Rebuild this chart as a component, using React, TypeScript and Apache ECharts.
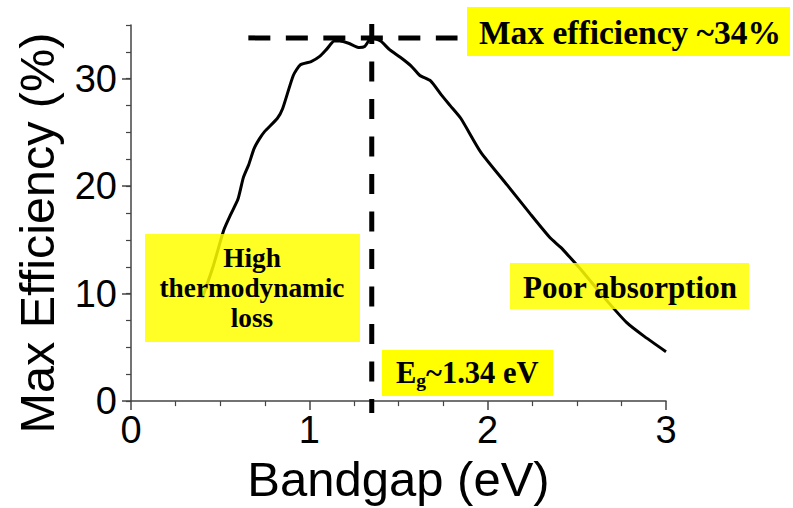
import React, { useEffect, useRef } from "react";
import * as echarts from "echarts";

// Shockley–Queisser style efficiency curve
const bandgap = [
  0.40, 0.46, 0.52, 0.56, 0.60, 0.63, 0.66, 0.69, 0.72, 0.75, 0.82, 0.85, 0.91, 0.95,
  1.01, 1.06, 1.10, 1.14, 1.17, 1.22, 1.28, 1.31, 1.34, 1.35, 1.40, 1.45, 1.51, 1.57,
  1.62, 1.68, 1.74, 1.79, 1.85, 1.96, 2.11, 2.24, 2.35, 2.41, 2.46, 2.54, 2.65, 2.78,
  2.88, 3.00,
];
const efficiency = [
  9.6, 12.5, 15.9, 17.4, 18.8, 20.8, 22.0, 23.5, 24.4, 25.1, 26.3, 27.2, 30.3, 31.3,
  31.6, 32.1, 32.8, 33.5, 33.5, 33.3, 32.9, 33.0, 33.7, 33.8, 33.5, 32.7, 32.0, 31.2,
  30.3, 29.8, 28.5, 27.5, 26.3, 23.2, 20.1, 17.4, 15.2, 14.3, 13.4, 11.9, 9.7, 7.3,
  6.0, 4.6,
];

// reference guide lines
const optimumBandgap = 1.35;
const optimumLineY = [35.1, -1.1];
const maxEfficiency = 33.8;
const maxLineX = [0.658, 1.831];

// axis ticks
const yLabelValues = [0, 10, 20, 30];

const annotationFont = "Liberation Serif";
const axisFont = "Liberation Sans";

export default function App() {
  const ref = useRef<HTMLDivElement>(null);

  useEffect(() => {
    if (!ref.current) return;
    const chart = echarts.init(ref.current, undefined, { renderer: "svg" });

    const axisColor = "#444";
    const curve = bandgap.map((x, i) => [x, efficiency[i]]);
    const vLine = optimumLineY.map((y) => [optimumBandgap, y]);
    const hLine = maxLineX.map((x) => [x, maxEfficiency]);

    const boxText = (text: string, x: number, y: number, size: number, extra: any = {}) => ({
      type: "text",
      x,
      y,
      z: 101,
      style: {
        text,
        fontFamily: annotationFont,
        fontWeight: "bold",
        fontSize: size,
        fill: "#000",
        align: "center",
        verticalAlign: "middle",
        ...extra,
      },
    });
    const box = (x: number, y: number, w: number, h: number, fill: string) => ({
      type: "rect",
      z: 100,
      shape: { x, y, width: w, height: h },
      style: { fill },
    });

    chart.setOption({
      animation: false,
      backgroundColor: "#fff",
      grid: { left: 131, right: 127, top: 25, bottom: 102 },
      xAxis: {
        type: "value",
        min: 0,
        max: 3,
        interval: 1,
        axisLine: { show: true, onZero: false, lineStyle: { color: axisColor, width: 1.5 } },
        axisTick: { show: true, length: 9, lineStyle: { color: axisColor, width: 1.5 } },
        minorTick: { show: true, splitNumber: 4, length: 5, lineStyle: { color: axisColor, width: 1.2 } },
        axisLabel: { fontSize: 38, fontFamily: axisFont, color: "#000", margin: 10 },
        splitLine: { show: false },
        name: "Bandgap (eV)",
        nameLocation: "middle",
        nameGap: 48,
        nameTextStyle: { fontSize: 49, fontFamily: axisFont, color: "#000" },
      },
      yAxis: [
        {
          type: "value",
          min: 0,
          max: 35,
          interval: 10,
          position: "left",
          axisLine: { show: true, onZero: false, lineStyle: { color: axisColor, width: 1.5 } },
          axisTick: { show: true, length: 9, customValues: yLabelValues, lineStyle: { color: axisColor, width: 1.5 } },
          axisLabel: {
            fontSize: 38,
            fontFamily: axisFont,
            color: "#000",
            margin: 14,
            customValues: yLabelValues,
          },
          splitLine: { show: false },
          name: "Max Efficiency (%)",
          nameLocation: "middle",
          nameGap: 70,
          nameTextStyle: { fontSize: 48.5, fontFamily: axisFont, color: "#000", padding: [0, 40, 0, 0] },
        },
        {
          type: "value",
          min: 0,
          max: 35,
          interval: 2.5,
          position: "left",
          axisLine: { show: false },
          axisTick: { show: true, length: 5, lineStyle: { color: axisColor, width: 1.2 } },
          axisLabel: { show: false },
          splitLine: { show: false },
        },
      ],
      series: [
        {
          type: "line",
          data: curve,
          yAxisIndex: 0,
          showSymbol: false,
          symbol: "none",
          smooth: 0.2,
          lineStyle: { color: "#000", width: 3 },
          z: 3,
        },
        {
          type: "line",
          data: vLine,
          yAxisIndex: 0,
          symbol: "none",
          clip: false,
          lineStyle: { color: "#000", width: 5, type: [20, 17.5] },
          z: 4,
        },
        {
          type: "line",
          data: hLine,
          yAxisIndex: 0,
          symbol: "none",
          clip: false,
          lineStyle: { color: "#000", width: 5, type: [22, 15.5] },
          z: 4,
        },
      ],
      graphic: [
        box(467, 7, 323, 49, "#ffff00"),
        boxText("Max efficiency ~34%", 630, 32, 33.5),
        box(145, 234, 215, 108, "rgba(255,255,0,0.85)"),
        boxText("High\nthermodynamic\nloss", 252, 288, 27.3, { lineHeight: 30 }),
        box(510, 263, 239, 46, "rgba(255,255,0,0.85)"),
        boxText("Poor absorption", 630, 287, 31),
        box(382, 350, 171, 46, "#ffff00"),
        {
          type: "text",
          x: 396,
          y: 373,
          z: 101,
          style: {
            text: "{e|E}{g|g}{t|~1.34 eV}",
            align: "left",
            verticalAlign: "middle",
            rich: {
              e: { fontFamily: annotationFont, fontWeight: "bold", fontSize: 30.5, fill: "#000" },
              g: { fontFamily: annotationFont, fontWeight: "bold", fontSize: 19.5, fill: "#000", padding: [14, 0, 0, 0] },
              t: { fontFamily: annotationFont, fontWeight: "bold", fontSize: 30.5, fill: "#000" },
            },
          },
        },
      ],
    });

    return () => chart.dispose();
  }, []);

  return (
    <div
      ref={ref}
      style={{ position: "fixed", left: 0, top: 0, width: 793, height: 508, background: "#fff" }}
    />
  );
}
